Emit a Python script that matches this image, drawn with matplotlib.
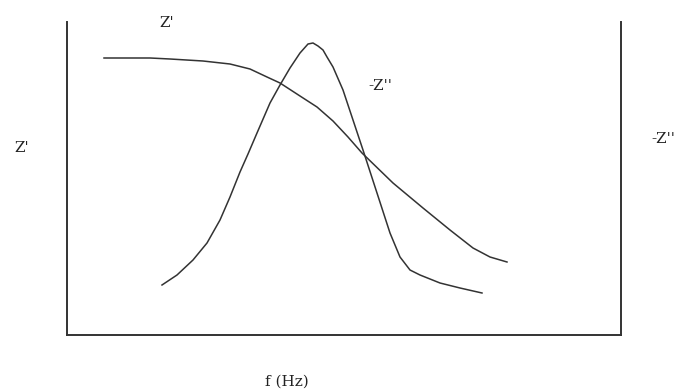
import matplotlib
matplotlib.use('Agg')
from matplotlib import pyplot

W, H = 678, 392

# curve samples (x along frequency, y upwards)
Z_REAL_X = [37, 83, 103, 136, 163, 183, 200, 213, 233, 250, 266, 281, 295, 326, 356, 383, 406, 423, 440]
Z_REAL_Y = [277, 277, 276, 274, 271, 266, 258, 252, 239, 228, 214, 198, 182, 152, 127, 105, 87, 78, 73]

Z_IMAG_X = [95, 110, 126, 140, 153, 163, 173, 181, 190, 203, 213, 223, 233, 241, 246, 251, 256, 260,
            266, 276, 286, 296, 310, 323, 333, 343, 353, 373, 393, 415]
Z_IMAG_Y = [50, 60, 75, 92, 115, 138, 163, 181, 202, 232, 250, 267, 282, 291, 292, 289, 285, 278,
            268, 245, 215, 185, 142, 102, 78, 65, 60, 52, 47, 42]

LINE_COLOR = '#333333'
FONT = 'DejaVu Serif'

fig = pyplot.figure(figsize=(W / 100, H / 100), dpi=100)
ax = fig.add_axes([67 / W, 1 - 335 / H, (621 - 67) / W, (335 - 22) / H])

ax.plot(Z_REAL_X, Z_REAL_Y, color=LINE_COLOR, lw=1.1, solid_joinstyle='round')
ax.plot(Z_IMAG_X, Z_IMAG_Y, color=LINE_COLOR, lw=1.1, solid_joinstyle='round')

ax.set_xlim(0, 554)
ax.set_ylim(0, 313)
ax.set_xticks([])
ax.set_yticks([])
ax.spines['top'].set_visible(False)
for side in ['left', 'right', 'bottom']:
    ax.spines[side].set_color(LINE_COLOR)
    ax.spines[side].set_linewidth(1.4)

def put(px, py, s):
    fig.text(px / W, 1 - py / H, s, ha='center', va='center', fontsize=11, family=FONT, color='#222222')

put(22, 148, "Z'")
put(663, 139, "-Z''")
put(167, 23, "Z'")
put(380, 86, "-Z''")
put(287, 382, "f (Hz)")

fig.savefig('out.png', dpi=100)
